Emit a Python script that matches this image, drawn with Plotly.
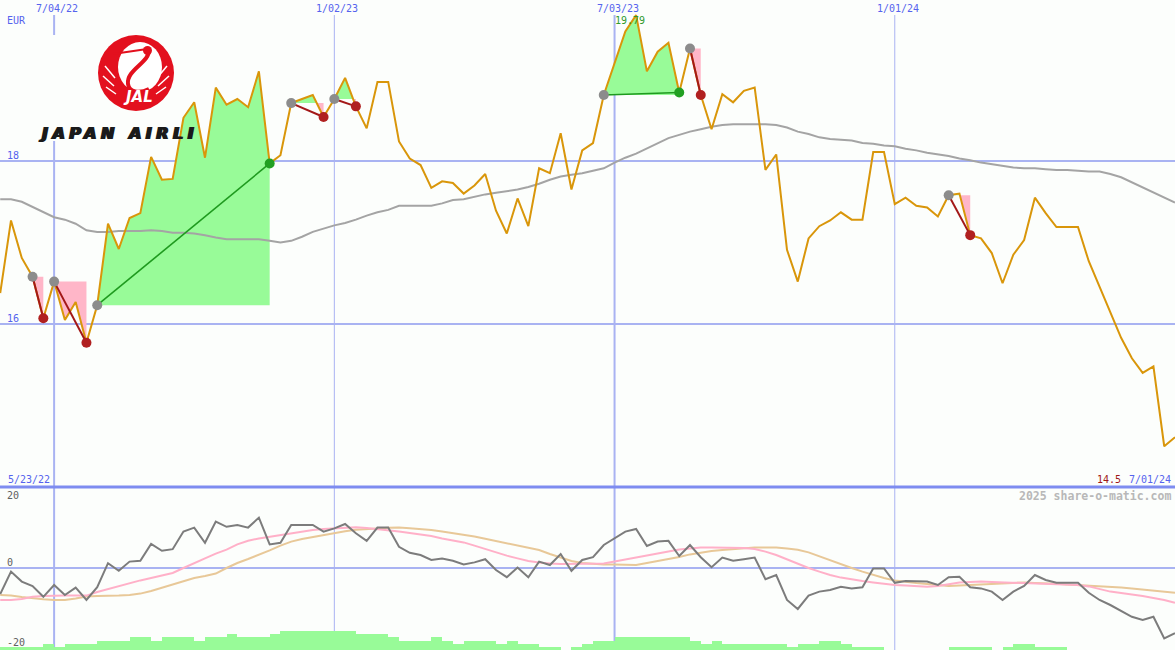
import plotly.graph_objects as go
import pandas as pd

W, H = 1175, 650

# ---------------- data ----------------
dates = pd.date_range("2022-05-30", periods=110, freq="7D")

price = [16.38, 17.27, 16.81, 16.58, 16.07, 16.52, 16.05, 16.27, 15.77, 16.23,
         17.23, 16.92, 17.30, 17.36, 18.05, 17.77, 17.78, 18.53, 18.72, 18.04,
         18.90, 18.69, 18.76, 18.66, 19.10, 17.97, 18.07, 18.71, 18.76, 18.81,
         18.54, 18.76, 19.02, 18.67, 18.40, 18.97, 18.97, 18.24, 18.03, 17.95,
         17.67, 17.75, 17.73, 17.60, 17.70, 17.84, 17.39, 17.11, 17.54, 17.20,
         17.91, 17.85, 18.34, 17.65, 18.13, 18.22, 18.81, 19.20, 19.59, 19.79,
         19.10, 19.34, 19.45, 18.84, 19.38, 18.81, 18.39, 18.82, 18.72, 18.86,
         18.90, 17.89, 18.08, 16.91, 16.52, 17.05, 17.20, 17.27, 17.37, 17.28,
         17.28, 18.11, 18.11, 17.47, 17.55, 17.45, 17.43, 17.32, 17.58, 17.60,
         17.09, 17.05, 16.87, 16.50, 16.85, 17.03, 17.55, 17.36, 17.19, 17.19,
         17.19, 16.77, 16.45, 16.14, 15.83, 15.58, 15.40, 15.48, 14.50, 14.61]

moving_avg = [17.53, 17.53, 17.50, 17.44, 17.37, 17.31, 17.28, 17.23, 17.15, 17.13,
              17.13, 17.14, 17.14, 17.14, 17.15, 17.14, 17.12, 17.12, 17.11, 17.09,
              17.06, 17.04, 17.04, 17.04, 17.04, 17.02, 17.00, 17.02, 17.07, 17.13,
              17.17, 17.21, 17.24, 17.28, 17.33, 17.37, 17.40, 17.45, 17.45, 17.45,
              17.45, 17.48, 17.52, 17.53, 17.56, 17.59, 17.61, 17.63, 17.65, 17.68,
              17.72, 17.77, 17.81, 17.83, 17.85, 17.88, 17.91, 17.98, 18.04, 18.09,
              18.15, 18.21, 18.28, 18.32, 18.36, 18.39, 18.42, 18.44, 18.45, 18.45,
              18.45, 18.45, 18.44, 18.41, 18.36, 18.33, 18.29, 18.27, 18.26, 18.25,
              18.22, 18.21, 18.19, 18.18, 18.15, 18.13, 18.10, 18.08, 18.06, 18.03,
              18.01, 17.98, 17.96, 17.94, 17.92, 17.91, 17.91, 17.90, 17.89, 17.89,
              17.88, 17.87, 17.87, 17.84, 17.80, 17.74, 17.68, 17.62, 17.56, 17.49]

oscillator = [-6.5, -0.9, -3.4, -4.5, -7.2, -4.25, -6.75, -4.9, -8.0, -4.8,
              1.2, -0.7, 1.6, 1.8, 6.0, 4.3, 4.7, 9.1, 10.1, 6.3,
              11.6, 10.3, 10.75, 10.1, 12.6, 5.9, 6.3, 10.75, 10.75, 10.75,
              9.1, 9.9, 11.0, 8.7, 6.8, 10.1, 10.1, 5.3, 3.8, 3.25,
              2.0, 2.4, 1.8, 0.9, 1.4, 2.2, -0.5, -2.3, 0.1, -2.3,
              1.6, 0.75, 3.5, -0.7, 2.0, 2.7, 5.75, 7.4, 9.1, 9.75,
              5.5, 6.6, 6.8, 3.0, 5.75, 2.7, 0.2, 2.6, 1.8, 2.2,
              2.6, -2.8, -1.75, -8.0, -10.25, -6.9, -5.9, -5.5, -4.7, -5.1,
              -4.8, -0.1, -0.1, -3.7, -3.25, -3.3, -3.4, -4.25, -2.3, -2.2,
              -4.8, -5.1, -5.9, -8.0, -5.9, -4.5, -1.75, -3.0, -3.7, -3.7,
              -3.7, -6.2, -8.0, -9.25, -10.75, -12.2, -13.0, -12.2, -17.6, -16.3]

osc_fast = [-8.0, -8.0, -7.75, -7.2, -7.0, -6.9, -6.9, -6.9, -6.9, -6.0,
            -5.25, -4.5, -3.9, -3.1, -2.5, -1.9, -1.25, 0.0, 1.1, 2.4,
            3.6, 4.6, 5.9, 6.8, 7.4, 7.8, 8.25, 8.75, 9.1, 9.5,
            9.75, 9.9, 10.05, 10.2, 10.0, 9.75, 9.5, 9.1, 8.75, 8.4,
            8.0, 7.4, 6.9, 6.4, 5.6, 4.75, 3.9, 3.1, 2.4, 1.75,
            1.4, 1.1, 1.0, 1.0, 1.0, 1.0, 1.1, 1.6, 2.1, 2.6,
            3.1, 3.6, 4.1, 4.6, 4.9, 5.1, 5.1, 5.1, 5.1, 5.0,
            4.75, 4.1, 3.25, 2.1, 1.0, 0.0, -0.9, -1.75, -2.4, -2.9,
            -3.25, -3.6, -4.0, -4.25, -4.4, -4.5, -4.7, -4.5, -4.0, -3.6,
            -3.5, -3.4, -3.5, -3.6, -3.7, -3.8, -3.9, -4.1, -4.2, -4.25,
            -4.25, -4.6, -5.25, -5.9, -6.25, -6.6, -7.0, -7.5, -8.0, -8.7]

osc_slow = [-6.75, -6.9, -7.25, -7.6, -7.8, -8.0, -8.0, -7.6, -7.1, -7.0,
            -7.0, -6.9, -6.75, -6.4, -5.75, -4.9, -4.1, -3.3, -2.5, -2.0,
            -1.4, 0.0, 1.25, 2.25, 3.25, 4.4, 5.6, 6.6, 7.25, 7.75,
            8.25, 8.75, 9.2, 9.55, 9.8, 9.9, 10.05, 10.1, 9.95, 9.75,
            9.5, 9.1, 8.75, 8.4, 7.9, 7.3, 6.75, 6.25, 5.7, 5.1,
            4.5, 3.5, 2.6, 1.75, 1.25, 1.0, 0.9, 0.85, 0.75, 0.75,
            1.25, 1.7, 2.25, 2.75, 3.4, 3.9, 4.25, 4.5, 4.75, 5.0,
            5.1, 5.1, 5.1, 4.9, 4.55, 3.9, 2.9, 1.9, 0.9, 0.0,
            -0.9, -1.75, -2.5, -3.1, -3.5, -3.75, -4.0, -4.25, -4.5, -4.4,
            -4.25, -4.1, -3.9, -3.75, -3.6, -3.6, -3.75, -3.8, -3.95, -4.1,
            -4.25, -4.4, -4.5, -4.6, -4.9, -5.1, -5.4, -5.6, -5.9, -6.2]

strength = [1, 1, 1, 1, 2, 1, 2, 2, 2, 3,
            3, 3, 4, 4, 3, 4, 4, 4, 3, 4,
            4, 5, 4, 4, 4, 5, 6, 6, 6, 6,
            6, 6, 6, 5, 5, 5, 4, 3, 3, 3,
            4, 3, 2, 3, 3, 3, 2, 3, 2, 2,
            1, 1, 0, 1, 2, 3, 3, 4, 4, 4,
            4, 4, 4, 4, 3, 2, 3, 2, 2, 2,
            2, 2, 2, 1, 2, 2, 3, 3, 2, 1,
            1, 1, 0, 0, 0, 0, 0, 0, 1, 1,
            1, 1, 0, 1, 2, 2, 1, 1, 1, 0,
            0, 0, 0, 0, 0, 0, 0, 0, 0, 0]

# trades: week index (0-based) of entry and exit
trade_entry = [3, 5, 9, 27, 31, 56, 64, 88]
trade_exit = [4, 8, 25, 30, 33, 63, 65, 90]

grid_dates = ["2022-07-04", "2023-01-02", "2023-07-03", "2024-01-01"]
grid_labels = ["7/04/22", "1/02/23", "7/03/23", "1/01/24"]
grid_widths = [2, 1, 2, 1]
price_ticks = [18, 16]
osc_ticks = [20, 0, -20]

# ---------------- styling ----------------
BG = "#fcfefc"
GRID = "#a9b3f2"
SEP = "#7e8cf0"
BLUE_TXT = "#5563ee"
PRICE_C = "#d9960a"
MA_C = "#a4a4a4"
GREEN_F = "#98fb98"
PINK_F = "#ffb6c8"
MONO = "DejaVu Sans Mono"

PRICE_RANGE = [14.0, 19.975]
OSC_RANGE = [-20.5, 20.25]
PANE_SPLIT = 1 - 487 / H  # paper y of separator

fig = go.Figure()


def px2p(x, y):
    return x / W, 1 - y / H


# ---------------- trade fills ----------------
def fill_parts(i0, i1):
    e = price[i0]
    xs = [dates[i0]]
    ys = [price[i0]]
    for i in range(i0 + 1, i1 + 1):
        p0, p1 = price[i - 1], price[i]
        if (p0 - e) * (p1 - e) < 0:
            f = (e - p0) / (p1 - p0)
            xs.append(dates[i - 1] + (dates[i] - dates[i - 1]) * f)
            ys.append(e)
        xs.append(dates[i])
        ys.append(price[i])
    up = [max(v, e) for v in ys]
    lo = [min(v, e) for v in ys]
    return e, xs, up, lo


for i0, i1 in zip(trade_entry, trade_exit):
    e, xs, up, lo = fill_parts(i0, i1)
    for arr, col in ((up, GREEN_F), (lo, PINK_F)):
        if all(abs(v - e) < 1e-9 for v in arr):
            continue
        fig.add_trace(go.Scatter(x=xs, y=[e] * len(xs), mode="lines",
                                 line=dict(width=0), hoverinfo="skip",
                                 showlegend=False))
        fig.add_trace(go.Scatter(x=xs, y=arr, mode="lines", fill="tonexty",
                                 fillcolor=col, line=dict(width=0),
                                 hoverinfo="skip", showlegend=False))

# ---------------- moving average & price ----------------
fig.add_trace(go.Scatter(x=dates, y=moving_avg, mode="lines",
                         line=dict(color=MA_C, width=2), showlegend=False))
fig.add_trace(go.Scatter(x=dates, y=price, mode="lines",
                         line=dict(color=PRICE_C, width=2), showlegend=False))

# trade connectors and markers
for i0, i1 in zip(trade_entry, trade_exit):
    win = price[i1] >= price[i0]
    lc = "#1f9a1f" if win else "#a31818"
    fig.add_trace(go.Scatter(x=[dates[i0], dates[i1]], y=[price[i0], price[i1]],
                             mode="lines", line=dict(color=lc, width=2 if not win else 1.6),
                             showlegend=False, hoverinfo="skip"))
for i0, i1 in zip(trade_entry, trade_exit):
    win = price[i1] >= price[i0]
    mc = "#22a022" if win else "#b02020"
    fig.add_trace(go.Scatter(x=[dates[i0]], y=[price[i0]], mode="markers",
                             marker=dict(color="#8c8c8c", size=10),
                             showlegend=False, hoverinfo="skip"))
    fig.add_trace(go.Scatter(x=[dates[i1]], y=[price[i1]], mode="markers",
                             marker=dict(color=mc, size=10),
                             showlegend=False, hoverinfo="skip"))

# ---------------- oscillator pane ----------------
fig.add_trace(go.Bar(x=dates, y=strength, width=7 * 86400000, offset=0,
                     marker=dict(color=GREEN_F, line=dict(width=0)),
                     yaxis="y3", showlegend=False, hoverinfo="skip"))
fig.add_trace(go.Scatter(x=dates, y=osc_slow, mode="lines", yaxis="y2",
                         line=dict(color="#e8c898", width=2), showlegend=False))
fig.add_trace(go.Scatter(x=dates, y=osc_fast, mode="lines", yaxis="y2",
                         line=dict(color="#ffb0c8", width=2), showlegend=False))
fig.add_trace(go.Scatter(x=dates, y=oscillator, mode="lines", yaxis="y2",
                         line=dict(color="#7c7c7c", width=2), showlegend=False))

# ---------------- grid / shapes ----------------
shapes = []
for v in price_ticks:
    shapes.append(dict(type="line", xref="paper", yref="y", x0=0, x1=1, y0=v, y1=v,
                       line=dict(color=GRID, width=2), layer="below"))
shapes.append(dict(type="line", xref="paper", yref="y2", x0=0, x1=1, y0=0, y1=0,
                   line=dict(color=GRID, width=2), layer="below"))
for d, w in zip(grid_dates, grid_widths):
    shapes.append(dict(type="line", xref="x", yref="paper", x0=d, x1=d,
                       y0=0, y1=1 - 15 / H, line=dict(color=GRID, width=w), layer="below"))
shapes.append(dict(type="line", xref="paper", yref="paper", x0=0, x1=1,
                   y0=PANE_SPLIT, y1=PANE_SPLIT, line=dict(color=SEP, width=3), layer="below"))

# logo backdrop (hides grid under logo)
x0, y0 = px2p(28, 141)
x1, y1 = px2p(215, 35)
shapes.append(dict(type="rect", xref="paper", yref="paper", x0=x0, x1=x1, y0=y0, y1=y1,
                   fillcolor=BG, line=dict(width=0), layer="below"))

# logo: red circle with crane
RED = "#e3101e"
cx, cy, r = 136, 73, 38
a0, b0 = px2p(cx - r, cy + r)
a1, b1 = px2p(cx + r, cy - r)
shapes.append(dict(type="circle", xref="paper", yref="paper", x0=a0, x1=a1, y0=b0, y1=b1,
                   fillcolor=RED, line=dict(width=0)))
a0, b0 = px2p(118, 92)
a1, b1 = px2p(162, 42)
shapes.append(dict(type="circle", xref="paper", yref="paper", x0=a0, x1=a1, y0=b0, y1=b1,
                   fillcolor="white", line=dict(width=0)))


def path_px(cmds):
    out = []
    for c in cmds:
        if isinstance(c, str):
            out.append(c)
        else:
            px, py = px2p(*c)
            out.append(f"{px:.5f},{py:.5f}")
    return " ".join(out)


neck = path_px(["M", (149, 50), "C", (150, 62), (126, 70), (128, 84),
                "C", (129, 92), (139, 94), (149, 89)])
shapes.append(dict(type="path", xref="paper", yref="paper", path=neck,
                   line=dict(color=RED, width=4)))
beak = path_px(["M", (113, 54), "L", (147, 49)])
shapes.append(dict(type="path", xref="paper", yref="paper", path=beak,
                   line=dict(color=RED, width=2)))
a0, b0 = px2p(143, 55)
a1, b1 = px2p(152, 46)
shapes.append(dict(type="circle", xref="paper", yref="paper", x0=a0, x1=a1, y0=b0, y1=b1,
                   fillcolor=RED, line=dict(width=0)))
# wing feathers (white slits)
for (sx, sy, ex, ey) in [(105, 66, 115, 78), (103, 76, 114, 86), (106, 87, 116, 94),
                         (167, 66, 157, 78), (169, 76, 158, 86), (166, 87, 156, 94)]:
    shapes.append(dict(type="path", xref="paper", yref="paper",
                       path=path_px(["M", (sx, sy), "L", (ex, ey)]),
                       line=dict(color="white", width=1.5)))

# ---------------- annotations ----------------
anns = []


def ann(text, x, y, color, xanchor="left", size=10, family=MONO, bold=False, **kw):
    px, py = px2p(x, y)
    anns.append(dict(text=text, x=px, y=py, xref="paper", yref="paper",
                     xanchor=xanchor, yanchor="middle", showarrow=False,
                     font=dict(family=family, size=size, color=color,
                               weight="bold" if bold else "normal"), **kw))


for d, lab in zip(grid_dates, grid_labels):
    anns.append(dict(text=lab, x=d, y=1 - 8 / H, xref="x", yref="paper", xshift=3,
                     xanchor="center", yanchor="middle", showarrow=False,
                     font=dict(family=MONO, size=10, color=BLUE_TXT)))

ann("EUR", 5, 21, BLUE_TXT)
for v in price_ticks:
    anns.append(dict(text=str(v), x=5 / W, y=v, xref="paper", yref="y", yshift=5,
                     xanchor="left", yanchor="middle", showarrow=False,
                     font=dict(family=MONO, size=10, color=BLUE_TXT)))
ann("5/23/22", 6, 479, BLUE_TXT)
ann("7/01/24", 1173, 479, BLUE_TXT, xanchor="right")
ann(f"{min(price):.1f}", 1123, 479, "#a01818", xanchor="right")
ann("2025 share-o-matic.com", 1173, 496, "#b8b8b8", xanchor="right", size=11.5, bold=True)

ann("20", 5, 495, "#606060")
ann("0", 5, 562, "#606060")
ann("-20", 5, 642, "#606060")

imax = price.index(max(price))
anns.append(dict(text=f"{max(price):.2f}", x=dates[imax], y=max(price), xref="x", yref="y",
                 xshift=-6, yshift=-5, xanchor="center", yanchor="middle", showarrow=False,
                 font=dict(family=MONO, size=10, color="#2e9a2e")))

# logo texts
ann("JAL", 138, 97, "white", xanchor="center", size=15, family="DejaVu Sans", bold=True)
anns[-1]["font"]["style"] = "italic"
ann('<span style="letter-spacing:4.5px">JAPAN AIRLI</span>', 36, 133, "#1a1a1a",
    size=16, family="DejaVu Sans", bold=True)
anns[-1]["font"]["style"] = "italic"
anns[-1]["font"]["shadow"] = "1px 0px 0px #1a1a1a, 2px 0px 0px #1a1a1a"

fig.update_layout(
    width=W, height=H,
    margin=dict(l=0, r=0, t=0, b=0),
    paper_bgcolor=BG, plot_bgcolor=BG,
    showlegend=False,
    bargap=0,
    xaxis=dict(type="date", range=["2022-05-29 20:30", "2024-07-01 00:00"],
               domain=[0, 1], visible=False, showgrid=False, zeroline=False,
               anchor="y2"),
    yaxis=dict(domain=[PANE_SPLIT, 1], range=PRICE_RANGE, visible=False,
               showgrid=False, zeroline=False),
    yaxis2=dict(domain=[0, PANE_SPLIT], range=OSC_RANGE, visible=False,
                showgrid=False, zeroline=False),
    yaxis3=dict(overlaying="y2", range=[0, 163 / 3.15], visible=False,
                showgrid=False, zeroline=False),
    shapes=shapes,
    annotations=anns,
)

fig.write_html("out.html", config={"displayModeBar": False},
               post_script="document.body.style.margin='0';document.body.style.overflow='hidden';")
